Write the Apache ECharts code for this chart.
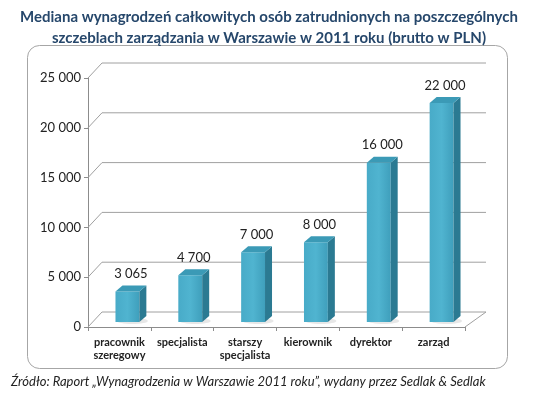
<!DOCTYPE html>
<html>
<head>
<meta charset="utf-8">
<script src="https://cdn.jsdelivr.net/npm/echarts@6/dist/echarts.min.js"></script>
<style>
html,body{margin:0;padding:0;background:#fff;}
#chart{width:538px;height:395px;}
</style>
</head>
<body>
<div id="chart"></div>
<script>
const categories = ['pracownik\nszeregowy', 'specjalista', 'starszy\nspecjalista', 'kierownik', 'dyrektor', 'zarząd'];
const values = [3065, 4700, 7000, 8000, 16000, 22000];
const yTicks = [0, 5000, 10000, 15000, 20000, 25000];
const titleLines = ['Mediana wynagrodzeń całkowitych osób zatrudnionych na poszczególnych', 'szczeblach zarządzania w Warszawie w 2011 roku (brutto w PLN)'];
const sourceText = 'Źródło: Raport „Wynagrodzenia w Warszawie 2011 roku”, wydany przez Sedlak & Sedlak';

function fmt(v) {
  return String(v).replace(/\B(?=(\d{3})+(?!\d))/g, ' ');
}

const chart = echarts.init(document.getElementById('chart'), null, {renderer: 'canvas'});

const WALL_L = [14, -15];
const WALL_R = [21, -15];
const BAR_OFF = [8, -5];
const BAR_D = [7, -6];

const option = {
  backgroundColor: '#ffffff',
  animation: false,
  title: {
    text: titleLines.join('\n'),
    left: 'center',
    top: 2,
    textStyle: {fontFamily: 'Lato', fontWeight: 'bold', fontSize: 15, color: '#26476b', lineHeight: 21}
  },
  graphic: [
    {type: 'rect', shape: {x: 27.5, y: 45.5, width: 480, height: 323, r: 12}, style: {fill: 'none', stroke: '#a6a6a6', lineWidth: 1}, z: -10},
    {type: 'text', left: 11, top: 375, style: {text: sourceText, font: 'italic 13px Lato', fill: '#222'}}
  ],
  grid: {left: 88, right: 73, top: 78, bottom: 68},
  xAxis: {
    type: 'category',
    data: categories,
    axisLine: {show: true, lineStyle: {color: '#8c8c8c'}},
    axisTick: {show: true, alignWithLabel: false, length: 4, lineStyle: {color: '#8c8c8c'}},
    axisLabel: {color: '#222', fontFamily: 'Lato', fontWeight: 'bold', fontSize: 11, lineHeight: 13, margin: 9, interval: 0}
  },
  yAxis: {
    type: 'value',
    min: 0, max: 25000, interval: 5000,
    axisLine: {show: true, lineStyle: {color: '#8c8c8c'}},
    axisTick: {show: true, length: 4, lineStyle: {color: '#8c8c8c'}},
    splitLine: {show: false},
    axisLabel: {color: '#222', fontFamily: 'Lato', fontSize: 13, margin: 7, formatter: fmt}
  },
  series: [
    {
      type: 'custom',
      name: 'walls',
      data: yTicks.map(v => [0, v]),
      silent: true,
      z: 1,
      renderItem: function (params, api) {
        const cs = params.coordSys;
        const v = api.value(1);
        const y = api.coord([0, v])[1];
        const left = cs.x, right = cs.x + cs.width;
        const pts = [[left, y], [left + WALL_L[0], y + WALL_L[1]], [right + WALL_R[0], y + WALL_R[1]]];
        const children = [{type: 'polyline', shape: {points: pts}, style: {stroke: '#a0a0a0', lineWidth: 1, fill: null}}];
        if (v === 0) {
          children.push({type: 'polyline', shape: {points: [[right, y], [right + WALL_R[0], y + WALL_R[1]]]}, style: {stroke: '#a0a0a0', lineWidth: 1, fill: null}});
        }
        return {type: 'group', children: children};
      }
    },
    {
      type: 'custom',
      name: 'bars',
      data: values.map((v, i) => [i, v]),
      z: 5,
      renderItem: function (params, api) {
        const i = api.value(0), v = api.value(1);
        const base = api.coord([i, 0]);
        const top = api.coord([i, v]);
        const bw = api.size([1, 0])[0] * 0.38;
        const xl = base[0] - bw / 2 + BAR_OFF[0];
        const xr = base[0] + bw / 2 + BAR_OFF[0];
        const yb = base[1] + BAR_OFF[1];
        const yt = top[1] + BAR_OFF[1];
        const dx = BAR_D[0], dy = BAR_D[1];
        return {
          type: 'group',
          children: [
            {type: 'ellipse', shape: {cx: (xl + xr) / 2 + 5, cy: yb - 1, rx: bw * 0.65, ry: 3}, style: {fill: 'rgba(120,120,120,0.18)'}},
            {type: 'rect', shape: {x: xl, y: yt, width: xr - xl, height: yb - yt},
              style: {fill: new echarts.graphic.LinearGradient(0, 0, 1, 0, [{offset: 0, color: '#48abc8'}, {offset: 0.5, color: '#50b4d0'}, {offset: 1, color: '#3f9fbc'}])}},
            {type: 'polygon', shape: {points: [[xr, yt], [xr + dx, yt + dy], [xr + dx, yb + dy], [xr, yb]]}, style: {fill: '#2b7a92'}},
            {type: 'polygon', shape: {points: [[xl, yt], [xr, yt], [xr + dx, yt + dy], [xl + dx, yt + dy]]}, style: {fill: '#3b9ab6'}},
            {type: 'text', style: {text: fmt(v), x: (xl + xr + dx) / 2, y: yt + dy - 5, align: 'center', verticalAlign: 'bottom', font: '13px Lato', fill: '#222'}}
          ]
        };
      }
    }
  ]
};
chart.setOption(option);
</script>
</body>
</html>
